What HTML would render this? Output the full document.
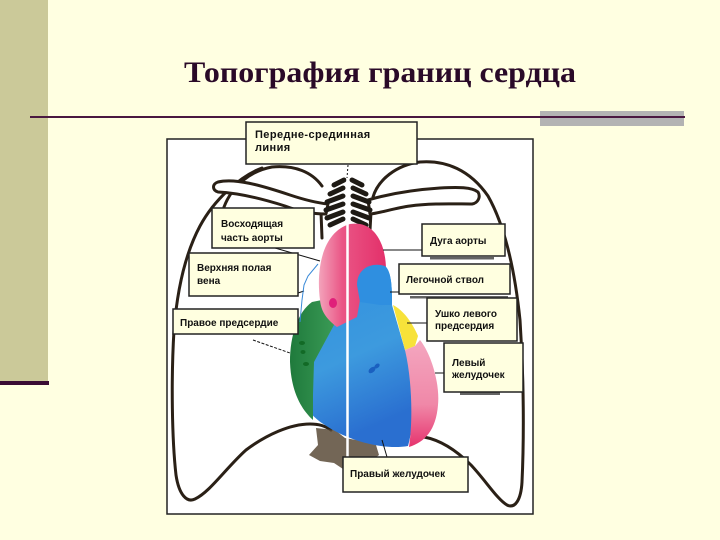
<!DOCTYPE html>
<html><head><meta charset="utf-8"><style>
html,body{margin:0;padding:0;background:#ffffe1;}
svg{display:block;}
.lb{font-family:"Liberation Sans",Arial,sans-serif;font-weight:bold;font-size:10px;fill:#111;}
</style></head><body>
<svg width="720" height="540" viewBox="0 0 720 540" xmlns="http://www.w3.org/2000/svg">
<defs>
<linearGradient id="gPink" x1="0" y1="0" x2="1" y2="0">
<stop offset="0" stop-color="#f3a3bb"/><stop offset="0.35" stop-color="#ea5585"/><stop offset="1" stop-color="#e3306a"/>
</linearGradient>
<linearGradient id="gBlue" x1="0" y1="0" x2="0.3" y2="1">
<stop offset="0" stop-color="#2f8fe0"/><stop offset="0.6" stop-color="#3d9ade"/><stop offset="1" stop-color="#2a6fd0"/>
</linearGradient>
<linearGradient id="gLV" x1="0" y1="0" x2="0" y2="1">
<stop offset="0" stop-color="#f4a7c0"/><stop offset="0.6" stop-color="#f088a8"/><stop offset="1" stop-color="#e6336e"/>
</linearGradient>
<linearGradient id="gGreen" x1="0" y1="0" x2="1" y2="0">
<stop offset="0" stop-color="#1f7a3c"/><stop offset="1" stop-color="#3a9a55"/>
</linearGradient>
</defs>

<rect width="720" height="540" fill="#ffffe1"/>
<!-- left sidebar -->
<rect x="0" y="0" width="48" height="383" fill="#cbc999"/>
<rect x="0" y="381" width="49" height="4" fill="#3a0c33"/>

<!-- title -->
<text x="380" y="82" text-anchor="middle" font-family="'Liberation Serif','Times New Roman',serif" font-weight="bold" font-size="30" fill="#2a0a28" textLength="392" lengthAdjust="spacingAndGlyphs">Топография границ сердца</text>

<!-- rule + gray bar -->
<rect x="540" y="111" width="144" height="15" fill="#b3b3b3"/>
<rect x="30" y="116" width="655" height="2" fill="#4a1840"/>

<!-- frame -->
<rect x="167" y="139" width="366" height="375" fill="#ffffff" stroke="#222" stroke-width="1.5"/>

<!-- skeleton -->
<g fill="none" stroke="#2a2016" stroke-width="3" stroke-linecap="round">
<path d="M262,168 C240,176 214,200 200,226 C184,256 177,292 174,330 C171,380 172,440 176,475 C179,495 187,503 195,499 C210,492 226,468 246,450 C266,435 290,424 310,424 C320,424 327,427 331,430"/>
<path d="M224,207 C232,186 250,171 272,167 C295,165 312,172 322,186"/>
<path d="M373,197 C378,180 396,165 420,162 C446,160 470,170 488,196 C505,226 515,272 520,320 C524,380 524,440 522,482 C521,500 515,509 507,505 C497,499 486,481 471,465 C456,450 440,440 424,437"/>
<path d="M321,212 L322,238"/>
<path d="M371,212 L370,230"/>
</g>
<!-- clavicles -->
<g fill="#ffffff" stroke="#2a2016" stroke-width="3" stroke-linejoin="round">
<path d="M218,182 C235,178 260,185 290,195 C305,200 318,203 328,204 L326,214 C312,214 298,211 285,206 C260,198 238,193 218,192 C212,190 212,184 218,182 Z"/>
<path d="M368,200 C385,195 410,190 440,188 C458,187 472,187 478,192 C481,197 478,203 472,204 C455,204 430,203 410,206 C395,208 380,213 370,214 Z"/>
</g>
<!-- vertebrae -->
<g fill="none" stroke="#1e1a14" stroke-width="5" stroke-linecap="round">
<path d="M344,180 L334,185 M352,180 L362,185"/>
<path d="M343,188 L330,194 M353,188 L366,194"/>
<path d="M343,196 L327,202 M353,196 L369,202"/>
<path d="M343,204 L326,210 M353,204 L370,210"/>
<path d="M343,212 L327,218 M353,212 L369,218"/>
<path d="M343,219 L330,225 M353,219 L366,225"/>
</g>

<!-- under heart blob -->
<path d="M316,428 L335,430 L345,438 L362,441 L376,445 L379,455 L370,462 L356,465 L346,471 L334,463 L320,461 L309,455 L318,445 Z" fill="#5b4b38" opacity="0.85"/>

<!-- heart -->
<path d="M357,285 C357,268 372,262 385,266 C392,272 392,290 392,305 L405,350 C418,380 413,430 408,446 C385,450 350,442 325,425 C300,410 290,380 292,350 C294,320 310,300 330,300 Z" fill="url(#gBlue)"/>
<path d="M312,302 C298,312 290,335 290,362 C291,390 300,408 313,420 L313,395 L314,362 L334,325 L322,300 Z" fill="url(#gGreen)"/>
<path d="M320,300 C316,270 322,232 350,224 C375,220 386,245 386,270 C386,285 384,295 380,300 L360,300 L357,317 L337,327 C325,318 321,310 320,300 Z" fill="url(#gPink)"/>
<path d="M357,285 C357,268 372,262 385,266 C392,272 392,290 392,305 L380,305 L360,302 Z" fill="#2f8fe0"/>
<path d="M393,305 C403,310 412,322 418,336 L415,346 L405,350 Z" fill="#f7e23a"/>
<path d="M405,350 L415,346 L420,340 C432,355 440,385 438,405 C436,430 425,442 409,447 C413,420 412,380 405,350 Z" fill="url(#gLV)"/>
<ellipse cx="333" cy="303" rx="4" ry="5" fill="#e0207a"/>
<g fill="#126a26">
<ellipse cx="302" cy="343" rx="3" ry="2"/><ellipse cx="303" cy="352" rx="2.5" ry="2"/><ellipse cx="306" cy="364" rx="3" ry="2"/>
</g>
<g fill="#1a60c0">
<ellipse cx="372" cy="370" rx="4" ry="2.5" transform="rotate(-40 372 370)"/><ellipse cx="377" cy="366" rx="3" ry="2" transform="rotate(-40 377 366)"/>
</g>
<line x1="347.5" y1="175" x2="347.5" y2="460" stroke="#ffffff" stroke-width="2.5"/>

<!-- connectors -->
<g stroke="#111" stroke-width="1" fill="none">
<path d="M348,165 L347,178" stroke-dasharray="2,2"/>
<path d="M275,248 L320,261"/>
<path d="M383,250 L422,250"/>
<path d="M390,292 L399,292"/>
<path d="M407,323 L427,323"/>
<path d="M435,373 L444,373"/>
<path d="M382,440 L387,457"/>
<path d="M253,340 L290,353" stroke-dasharray="3,1.5"/>
<path d="M298,293 L304,291"/>
</g>
<path d="M318,264 L308,276 L304,285 L302,300 L300,322" stroke="#3a8ad8" stroke-width="1" fill="none"/>

<g fill="#222" opacity="0.7">
<rect x="430" y="257" width="64" height="2.5"/>
<rect x="410" y="296" width="98" height="2.5"/>
<rect x="460" y="392" width="40" height="3"/>
</g>

<!-- label boxes -->
<g fill="#ffffe0" stroke="#222" stroke-width="1.5">
<rect x="246" y="122" width="171" height="42"/>
<rect x="212" y="208" width="102" height="40"/>
<rect x="422" y="224" width="83" height="32"/>
<rect x="189" y="253" width="109" height="43"/>
<rect x="399" y="264" width="111" height="30"/>
<rect x="427" y="298" width="90" height="43"/>
<rect x="173" y="309" width="125" height="25"/>
<rect x="444" y="343" width="79" height="49"/>
<rect x="343" y="457" width="125" height="35"/>
</g>

<text class="lb" style="font-size:11px;letter-spacing:0.4px" x="255" y="138">Передне-срединная</text>
<text class="lb" style="font-size:11px;letter-spacing:0.4px" x="255" y="151">линия</text>
<text class="lb" x="221" y="227">Восходящая</text>
<text class="lb" x="221" y="241">часть аорты</text>
<text class="lb" x="430" y="244">Дуга аорты</text>
<text class="lb" x="197" y="271">Верхняя полая</text>
<text class="lb" x="197" y="284">вена</text>
<text class="lb" x="406" y="283">Легочной ствол</text>
<text class="lb" x="435" y="317">Ушко левого</text>
<text class="lb" x="435" y="329">предсердия</text>
<text class="lb" x="180" y="326">Правое предсердие</text>
<text class="lb" x="452" y="366">Левый</text>
<text class="lb" x="452" y="378">желудочек</text>
<text class="lb" x="350" y="477">Правый желудочек</text>
</svg>
</body></html>
